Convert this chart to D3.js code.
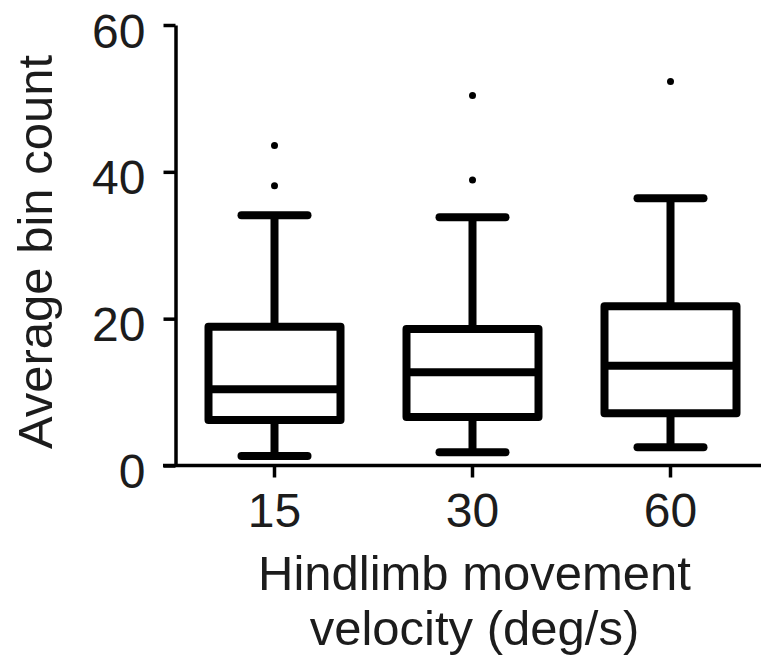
<!DOCTYPE html>
<html>
<head>
<meta charset="utf-8">
<script src="https://cdn.jsdelivr.net/npm/d3@7"></script>
<style>
  html, body { margin: 0; padding: 0; background: #fff; }
  svg { display: block; }
  text { font-family: "Liberation Sans", Arial, sans-serif; fill: #1c1c1c; }
</style>
</head>
<body>
<svg id="chart" width="761" height="663"></svg>
<script>
// ---- Data ----
const categories = ["15", "30", "60"];
const whiskerLow  = [1.3, 1.8, 2.5];
const q1          = [6.2, 6.6, 7.1];
const median      = [10.4, 12.7, 13.6];
const q3          = [18.9, 18.6, 21.7];
const whiskerHigh = [34.1, 33.8, 36.4];
const outliers    = [[43.6, 38.1], [50.4, 38.9], [52.3]];
const yTicks      = [0, 20, 40, 60];
const yTitle = "Average bin count";
const xTitleLines = ["Hindlimb movement", "velocity (deg/s)"];

// ---- Layout ----
const W = 761, H = 663;
const axisX = 175.5, axisY = 465.5;
const svg = d3.select("#chart");

const y = d3.scaleLinear().domain([0, 60]).range([axisY, 25]);
const x = d3.scaleBand().domain(categories).range([axisX, axisX + 594]).paddingInner(1/3).paddingOuter(1/6);

const ink = "#000";
const boxW = x.bandwidth();

// Y axis
const yAxis = svg.append("g")
  .attr("transform", `translate(${axisX},0)`)
  .call(d3.axisLeft(y).tickValues(yTicks).tickSize(12).tickSizeOuter(0).tickPadding(18));
yAxis.select(".domain").attr("stroke", ink).attr("stroke-width", 3.5);
yAxis.selectAll(".tick line").attr("stroke", ink).attr("stroke-width", 3.5);
yAxis.selectAll(".tick text")
  .style("font-size", "48px").attr("dy", "0.46em").attr("fill", "#1c1c1c");

// X axis
const xAxis = svg.append("g")
  .attr("transform", `translate(0,${axisY})`)
  .call(d3.axisBottom(x).tickSize(12).tickSizeOuter(0).tickPadding(15));
xAxis.select(".domain").remove();
xAxis.selectAll(".tick line").attr("stroke", ink).attr("stroke-width", 3.5);
xAxis.selectAll(".tick text").style("font-size", "48px").attr("fill", "#1c1c1c");
xAxis.append("line")
  .attr("x1", axisX - 12.5).attr("x2", W)
  .attr("y1", 0).attr("y2", 0)
  .attr("stroke", ink).attr("stroke-width", 3.5);

// Boxes
const g = svg.append("g");
categories.forEach((c, i) => {
  const cx = x(c) + boxW / 2;
  const sw = 8;
  const grp = g.append("g")
    .attr("stroke", ink).attr("stroke-width", sw)
    .attr("fill", "none").attr("stroke-linecap", "round").attr("stroke-linejoin", "round");
  // whiskers
  grp.append("line").attr("x1", cx).attr("x2", cx).attr("y1", y(q3[i])).attr("y2", y(whiskerHigh[i])).attr("stroke-linecap", "butt");
  grp.append("line").attr("x1", cx).attr("x2", cx).attr("y1", y(q1[i])).attr("y2", y(whiskerLow[i])).attr("stroke-linecap", "butt");
  // caps
  grp.append("line").attr("x1", cx - boxW / 4).attr("x2", cx + boxW / 4).attr("y1", y(whiskerHigh[i])).attr("y2", y(whiskerHigh[i]));
  grp.append("line").attr("x1", cx - boxW / 4).attr("x2", cx + boxW / 4).attr("y1", y(whiskerLow[i])).attr("y2", y(whiskerLow[i]));
  // box
  grp.append("rect")
    .attr("x", cx - boxW / 2).attr("width", boxW)
    .attr("y", y(q3[i])).attr("height", y(q1[i]) - y(q3[i]))
    .attr("fill", "#fff");
  // median
  grp.append("line").attr("x1", cx - boxW / 2).attr("x2", cx + boxW / 2)
    .attr("y1", y(median[i])).attr("y2", y(median[i])).attr("stroke-linecap", "butt");
  // outliers
  outliers[i].forEach(v => {
    g.append("circle").attr("cx", cx).attr("cy", y(v)).attr("r", 3.5).attr("fill", ink);
  });
});

// Y title
svg.append("text")
  .attr("transform", `translate(52,252) rotate(-90)`)
  .attr("text-anchor", "middle")
  .style("font-size", "49px")
  .text(yTitle);

// X title
const xc = x(categories[1]) + boxW / 2 + 2;
svg.append("text")
  .attr("text-anchor", "middle")
  .style("font-size", "49px")
  .selectAll("tspan").data(xTitleLines).join("tspan")
  .attr("x", xc)
  .attr("y", (d, i) => 590 + i * 55)
  .text(d => d);
</script>
</body>
</html>
